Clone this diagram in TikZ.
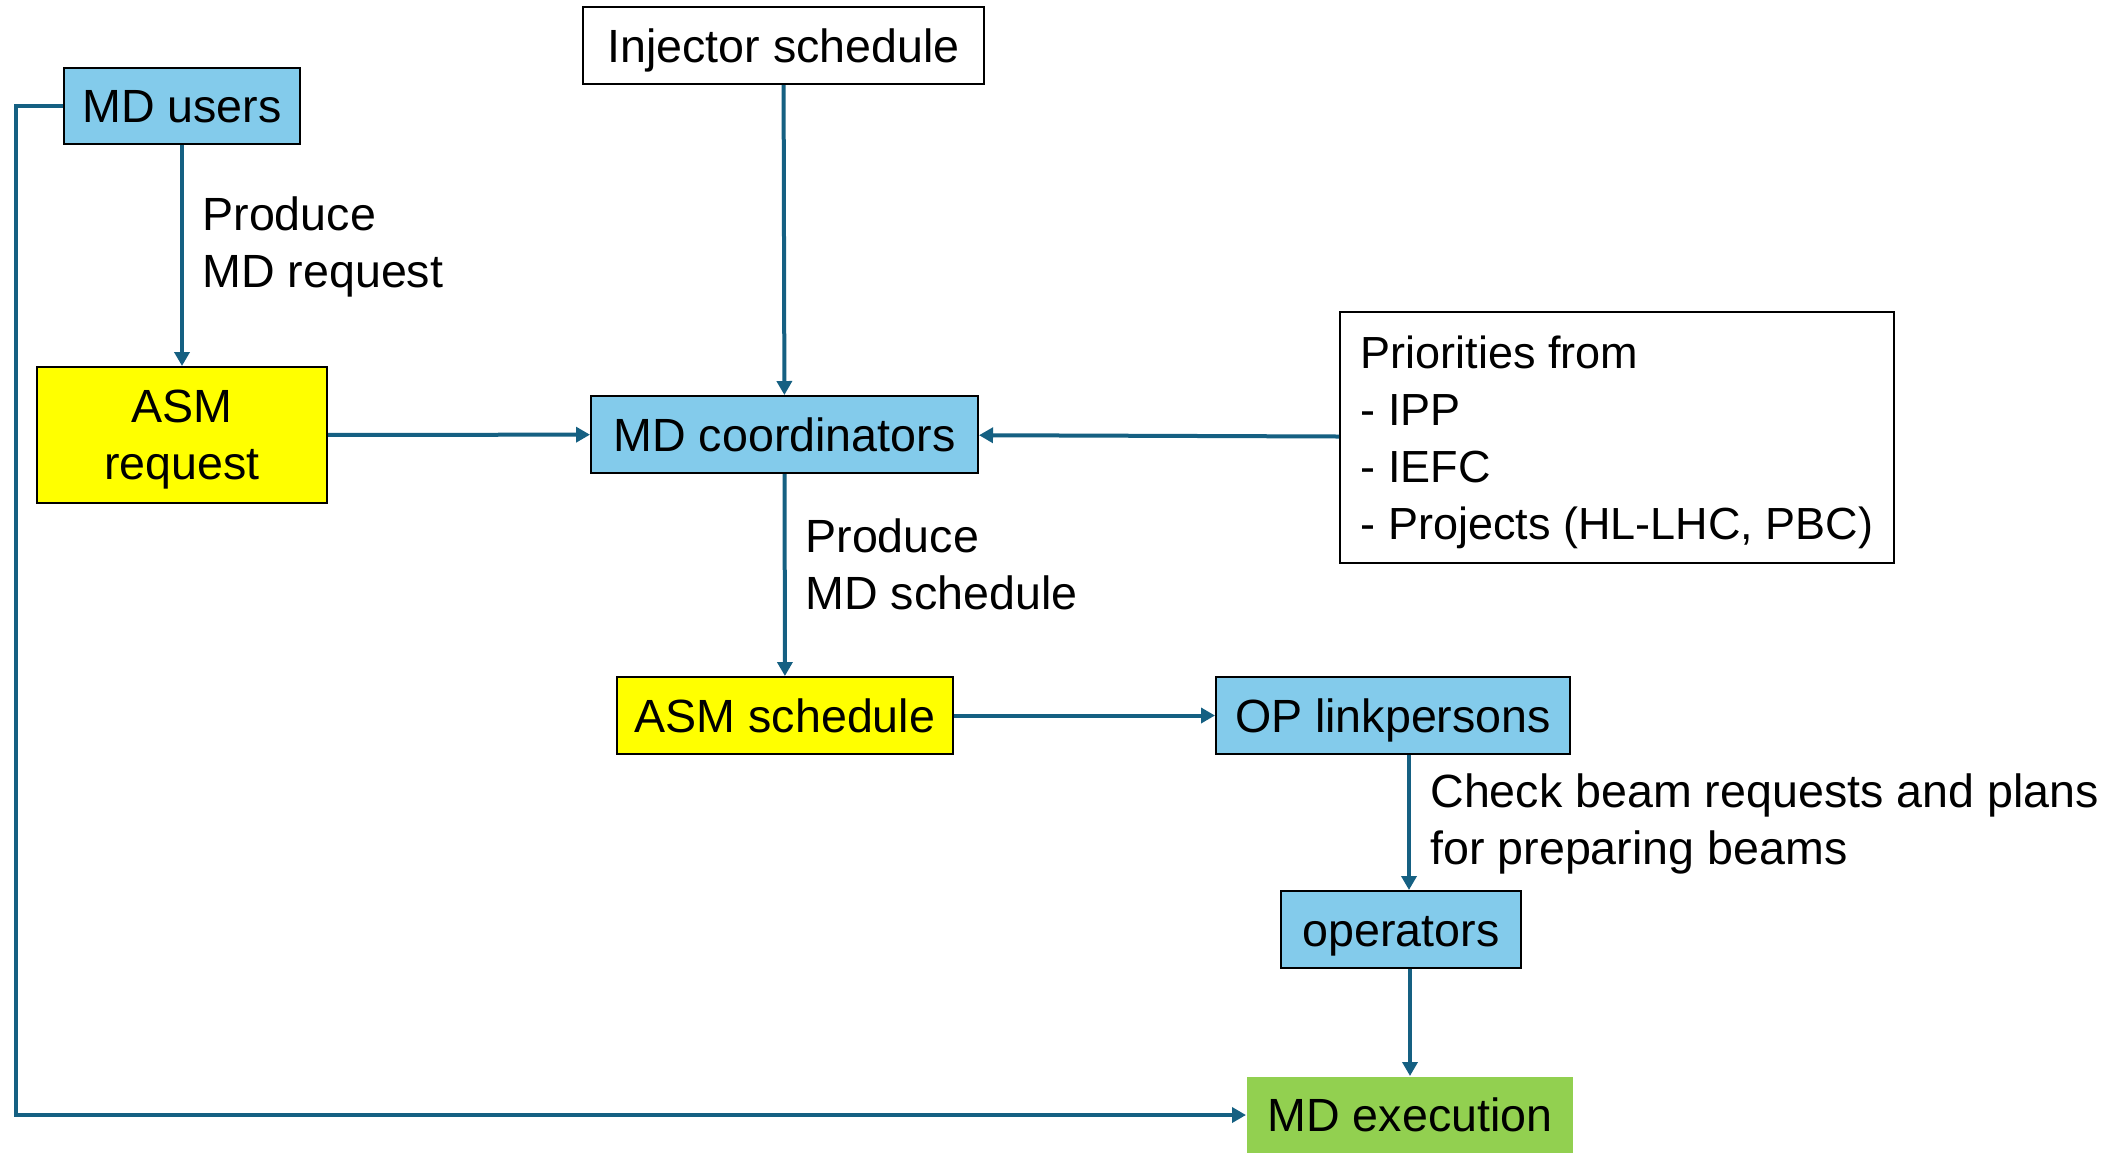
\documentclass[tikz,border=0pt]{standalone}
\usepackage{fontspec}
\setmainfont{Liberation Sans}
\usetikzlibrary{arrows.meta}
\definecolor{lblue}{HTML}{83CBEB}
\definecolor{ayellow}{HTML}{FFFF00}
\definecolor{agreen}{HTML}{92D050}
\definecolor{conncol}{HTML}{156082}
\begin{document}
\begin{tikzpicture}[x=0.5pt,y=-0.5pt,
  box/.style={draw=black, line width=1pt, inner sep=0pt, font=\fontsize{23.3}{28.5}\selectfont, align=center, text depth=0pt},
  onebox/.style={box, text height=16.8pt},
  lbl/.style={inner sep=0pt, font=\fontsize{23.3}{28.5}\selectfont, align=left, anchor=west},
  conn/.style={draw=conncol, line width=2pt, -{Triangle[length=7pt,width=7.5pt]}}
]
\useasboundingbox[fill=white] (0,0) rectangle (2126,1153);

\node[onebox, fill=lblue, minimum width=118pt, minimum height=38pt] (mdusers) at (182,106) {MD users};
\node[onebox, fill=white, minimum width=200.5pt, minimum height=38.5pt] (inj) at (783.5,45.5) {Injector schedule};
\node[box, fill=ayellow, minimum width=145pt, minimum height=68pt] (asmreq) at (182,435) {ASM\\request};
\node[onebox, fill=lblue, minimum width=193.5pt, minimum height=38.5pt] (mdc) at (784.5,434.5) {MD coordinators};
\node[box, fill=white, minimum width=277pt, minimum height=125.5pt, align=left, font=\fontsize{22.5}{28.5}\selectfont] (prio) at (1617,437.5) {Priorities from\\- IPP\\- IEFC\\- Projects (HL-LHC, PBC)};
\node[onebox, fill=ayellow, minimum width=168pt, minimum height=38.5pt] (asmsch) at (785,715.5) {ASM schedule};
\node[onebox, fill=lblue, minimum width=177pt, minimum height=38.5pt] (oplink) at (1393,715.5) {OP linkpersons};
\node[onebox, fill=lblue, minimum width=120pt, minimum height=38.5pt] (ops) at (1401,929.5) {operators};
\node[onebox, draw=none, fill=agreen, minimum width=163pt, minimum height=38pt] (mdexec) at (1410,1115) {MD execution};

\node[lbl] (l1) at (202,247) {Produce\\MD request};
\node[lbl] (l2) at (805,564) {Produce\\MD schedule};
\node[lbl] (l3) at (1430,824) {Check beam requests and plans\\for preparing beams};

\draw[conn] (mdusers) -- (asmreq);
\draw[conn] (inj) -- (mdc);
\draw[conn] (asmreq) -- (mdc);
\draw[conn] (prio) -- (mdc);
\draw[conn] (mdc) -- (asmsch);
\draw[conn] (asmsch) -- (oplink);
\draw[conn] ([xshift=8pt]oplink.south) -- ([xshift=4pt]ops.north);
\draw[conn] ([xshift=4.5pt]ops.south) -- (mdexec.north);
\draw[conn] (mdusers.west) -- ++(-47,0) |- (mdexec.west);
\end{tikzpicture}
\end{document}
